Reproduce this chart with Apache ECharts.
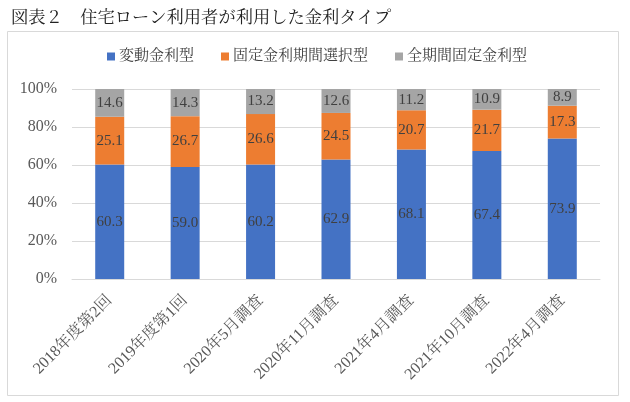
<!DOCTYPE html>
<html>
<head>
<meta charset="utf-8">
<script src="https://cdn.jsdelivr.net/npm/echarts@6/dist/echarts.min.js"></script>
<style>
html,body{margin:0;padding:0;background:#fff;}
#c{width:630px;height:402px;}
</style>
</head>
<body>
<div id="c"></div>
<script>
const titleText = '図表２　住宅ローン利用者が利用した金利タイプ';
const categories = ['2018年度第2回','2019年度第1回','2020年5月調査','2020年11月調査','2021年4月調査','2021年10月調査','2022年4月調査'];
const seriesNames = ['変動金利型','固定金利期間選択型','全期間固定金利型'];
const variableRate = [60.3,59.0,60.2,62.9,68.1,67.4,73.9];
const fixedPeriodRate = [25.1,26.7,26.6,24.5,20.7,21.7,17.3];
const fullFixedRate = [14.6,14.3,13.2,12.6,11.2,10.9,8.9];
const yTicks = [0,20,40,60,80,100];

const FONT = "'Liberation Serif', 'Noto Serif CJK JP', 'Noto Sans CJK JP', serif";
const colors = ['#4472C4','#ED7D31','#A5A5A5'];
const values = [variableRate, fixedPeriodRate, fullFixedRate];

const chart = echarts.init(document.getElementById('c'), null, {renderer:'canvas'});
chart.setOption({
  animation:false,
  backgroundColor:'#fff',
  color: colors,
  title:{
    text:titleText, left:6, top:5,
    textStyle:{fontFamily:FONT, fontSize:17.3, fontWeight:'normal', color:'#222'}
  },
  graphic:[{
    type:'rect', shape:{x:7.5,y:31.5,width:611,height:364},
    style:{fill:'none', stroke:'#d9d9d9', lineWidth:1}, z:-1
  }],
  legend:{
    left:102, top:44, itemWidth:8, itemHeight:8, itemGap:27,
    icon:'rect',
    textStyle:{fontFamily:FONT, fontSize:15, color:'#404040', padding:[0,0,0,-1]},
    data: seriesNames
  },
  grid:{left:72, right:30, top:89, bottom:123, containLabel:false},
  xAxis:{
    type:'category', data:categories,
    axisLine:{lineStyle:{color:'#d9d9d9'}},
    axisTick:{show:false},
    axisLabel:{rotate:45, margin:19, fontFamily:FONT, fontSize:16, color:'#595959', interval:0}
  },
  yAxis:{
    type:'value', min:yTicks[0], max:yTicks[yTicks.length-1], interval:yTicks[1]-yTicks[0],
    axisLine:{show:false}, axisTick:{show:false},
    splitLine:{lineStyle:{color:'#d9d9d9'}},
    axisLabel:{formatter:'{value}%', margin:15, fontFamily:FONT, fontSize:16, color:'#595959'}
  },
  series: seriesNames.map((n,i)=>({
    name:n, type:'bar', stack:'total', barWidth:29,
    data: values[i],
    itemStyle:{color:colors[i]},
    label:{show:true, position:'inside', formatter:p=>p.value.toFixed(1),
      fontFamily:FONT, fontSize:15, color:'#404040'}
  }))
});
</script>
</body>
</html>
